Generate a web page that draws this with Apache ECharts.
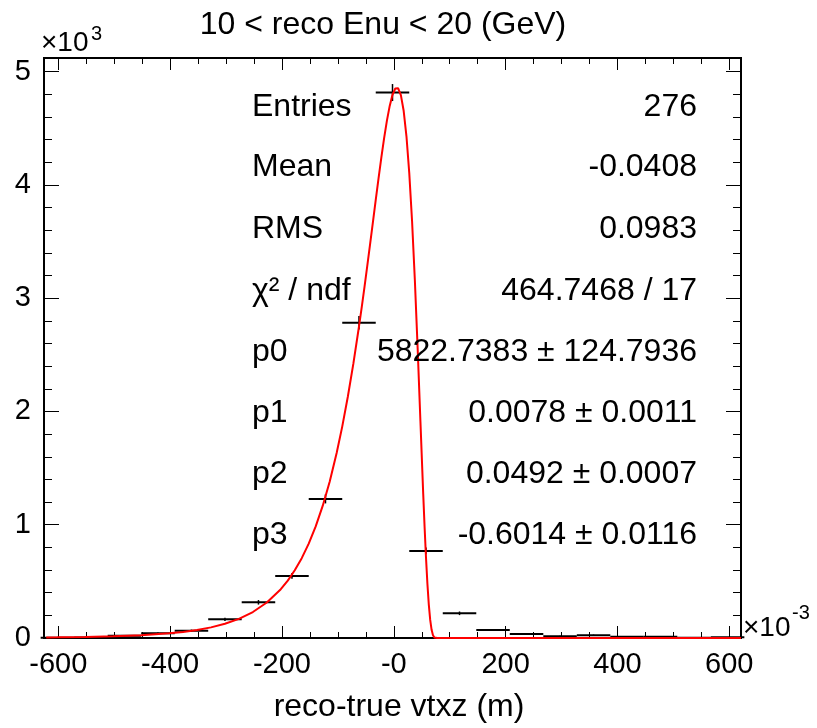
<!DOCTYPE html>
<html>
<head>
<meta charset="utf-8">
<script src="https://cdn.jsdelivr.net/npm/echarts@6/dist/echarts.min.js"></script>
<style>
html,body{margin:0;padding:0;background:#fff;}
#chart{width:817px;height:728px;}
</style>
</head>
<body>
<div id="chart"></div>
<script>
// ---- data ----
const titleText = '10 < reco Enu < 20 (GeV)';
const xTitle = 'reco-true vtxz (m)';
// histogram bin centres (x10^-3 m) and contents
const binCenters = [-600,-540,-480,-420,-360,-300,-240,-180,-120,-60,0,60,120,180,240,300,360,420,480,540,600];
const binValues  = [3,5,20,41,65,165,315,548,1228,2783,4815,769,218,71,35,15,25,10,12,2,6];
const binErrors  = [2,3,5,7,9,14,20,26,40,60,75,30,16,9,6,4,5,3,3,2,2];
const binWidth = 60;
// fitted curve, points
const curveX = [-620,-600,-550,-500,-450,-400,-375,-350,-325,-300,-275,-250,-225,-200,-187.5,-175,-162.5,-150,-137.5,-125,-112.5,-100,-90,-80,-70,-60,-55,-50,-45,-40,-35,-30,-25,-20,-15,-10,-5,0,5,8,10,15,20,25,30,35,40,45,50,55,57.5,60,62.5,65,67.5,70,72.5,75,77.5,80,624];
const curveY = [4.9,5.9,9.3,14.9,24.4,41.1,53.8,70.8,93.9,125.5,168.9,229.1,313.1,431,506.9,597.6,704.8,832.9,985.2,1166,1380,1633,1866,2130,2424,2750,2924,3104,3291,3481,3674,3867,4057,4240,4412,4567,4697,4795,4851,4859,4854,4792,4654,4429,4106,3683,3162,2561,1914,1272,976,709,479,295,160,72,24.5,5,0.5,0,0];
// axis ticks
const yTickLabels = ['0','1','2','3','4','5'];
// stats box
const statLabels = ['Entries','Mean','RMS','\u03C7\u00B2 / ndf','p0','p1','p2','p3'];
const statValues = ['276','-0.0408','0.0983','464.7468 / 17','5822.7383 \u00B1 124.7936','0.0078 \u00B1 0.0011','0.0492 \u00B1 0.0007','-0.6014 \u00B1 0.0116'];

const FONT = '"Liberation Sans", Arial, Helvetica, sans-serif';
const chart = echarts.init(document.getElementById('chart'), null, {renderer:'canvas'});

const histData = binCenters.map((c,i)=>[c, binValues[i], binErrors[i]]);
const curveData = curveX.map((x,i)=>[x, curveY[i]]);

const statRowY = [107,167,229,291,352,413,474,535];
const graphics = [];
graphics.push({type:'text', style:{text:titleText, font:'32px '+FONT, fill:'#000', x:383, y:25, textAlign:'center', textVerticalAlign:'middle'}});
graphics.push({type:'text', style:{text:xTitle, font:'32px '+FONT, fill:'#000', x:399, y:707, textAlign:'center', textVerticalAlign:'middle'}});
graphics.push({type:'text', style:{text:'\u00D710', font:'28px '+FONT, fill:'#000', x:41, y:43, textAlign:'left', textVerticalAlign:'middle'}});
graphics.push({type:'text', style:{text:'3', font:'20px '+FONT, fill:'#000', x:91, y:34, textAlign:'left', textVerticalAlign:'middle'}});
graphics.push({type:'text', style:{text:'\u00D710', font:'28px '+FONT, fill:'#000', x:743, y:628, textAlign:'left', textVerticalAlign:'middle'}});
graphics.push({type:'text', style:{text:'-3', font:'20px '+FONT, fill:'#000', x:792, y:613, textAlign:'left', textVerticalAlign:'middle'}});
statLabels.forEach((s,i)=>{
  graphics.push({type:'text', z:10, style:{text:s, font:'32px '+FONT, fill:'#000', x:252, y:statRowY[i], textAlign:'left', textVerticalAlign:'middle'}});
  graphics.push({type:'text', z:10, style:{text:statValues[i], font:'32px '+FONT, fill:'#000', x:697, y:statRowY[i], textAlign:'right', textVerticalAlign:'middle'}});
});

const gTop = 58, gBottom = 728-638;
const tickStyle = {color:'#000', width:1};
const option = {
  animation:false,
  backgroundColor:'#fff',
  grid:[
    {left:44, right:817-741, top:gTop, bottom:gBottom, show:true, borderColor:'#000', borderWidth:2, backgroundColor:'transparent'},
    {left:58.3, right:817-729.3, top:gTop, bottom:gBottom, show:false}
  ],
  xAxis:[
    {gridIndex:0, type:'value', min:-624, max:624, show:false, axisLine:{onZero:false}},
    {gridIndex:1, type:'value', min:-600, max:600, interval:200, position:'bottom',
      axisLine:{show:false, onZero:false},
      axisTick:{show:true, inside:true, length:12, lineStyle:tickStyle},
      minorTick:{show:true, splitNumber:4, length:6, lineStyle:tickStyle},
      splitLine:{show:false}, minorSplitLine:{show:false},
      axisLabel:{show:true, margin:12, color:'#000', fontSize:29, fontFamily:FONT,
        formatter:function(v){ return v===0 ? '-0' : String(v); }}
    },
    {gridIndex:1, type:'value', min:-600, max:600, interval:200, position:'top',
      axisLine:{show:false, onZero:false},
      axisTick:{show:true, inside:true, length:12, lineStyle:tickStyle},
      minorTick:{show:true, splitNumber:4, length:6, lineStyle:tickStyle},
      splitLine:{show:false}, axisLabel:{show:false}
    }
  ],
  yAxis:[
    {gridIndex:0, type:'value', min:0, max:5120, interval:1000, position:'left',
      axisLine:{show:false, onZero:false},
      axisTick:{show:true, inside:true, length:15, lineStyle:tickStyle},
      minorTick:{show:true, splitNumber:5, length:8, lineStyle:tickStyle},
      splitLine:{show:false}, minorSplitLine:{show:false},
      axisLabel:{show:true, margin:13, color:'#000', fontSize:29, fontFamily:FONT,
        formatter:function(v){ const i = Math.round(v/1000); return (v%1000===0 && yTickLabels[i]!==undefined) ? yTickLabels[i] : ''; }}
    },
    {gridIndex:0, type:'value', min:0, max:5120, interval:1000, position:'right',
      axisLine:{show:false, onZero:false},
      axisTick:{show:true, inside:true, length:15, lineStyle:tickStyle},
      minorTick:{show:true, splitNumber:5, length:8, lineStyle:tickStyle},
      splitLine:{show:false}, axisLabel:{show:false}
    },
    {gridIndex:1, type:'value', min:0, max:5120, show:false, axisLine:{onZero:false}}
  ],
  series:[
    {
      type:'custom', xAxisIndex:0, yAxisIndex:0, z:5,
      data:histData,
      renderItem:function(params, api){
        const x = api.value(0), y = api.value(1), e = api.value(2);
        const l = api.coord([x - binWidth/2, y]);
        const r = api.coord([x + binWidth/2, y]);
        const t = api.coord([x, y + e]);
        const b = api.coord([x, Math.max(0, y - e)]);
        return {type:'group', children:[
          {type:'line', shape:{x1:l[0], y1:l[1], x2:r[0], y2:r[1]}, style:{stroke:'#000', lineWidth:2}},
          {type:'line', shape:{x1:t[0], y1:t[1], x2:b[0], y2:b[1]}, style:{stroke:'#000', lineWidth:1.5}}
        ]};
      }
    },
    {
      type:'line', xAxisIndex:0, yAxisIndex:0, z:6,
      data:curveData, showSymbol:false, symbol:'none', smooth:false, clip:true,
      lineStyle:{color:'#ff0000', width:2}
    }
  ],
  graphic:graphics
};
chart.setOption(option);
</script>
</body>
</html>
